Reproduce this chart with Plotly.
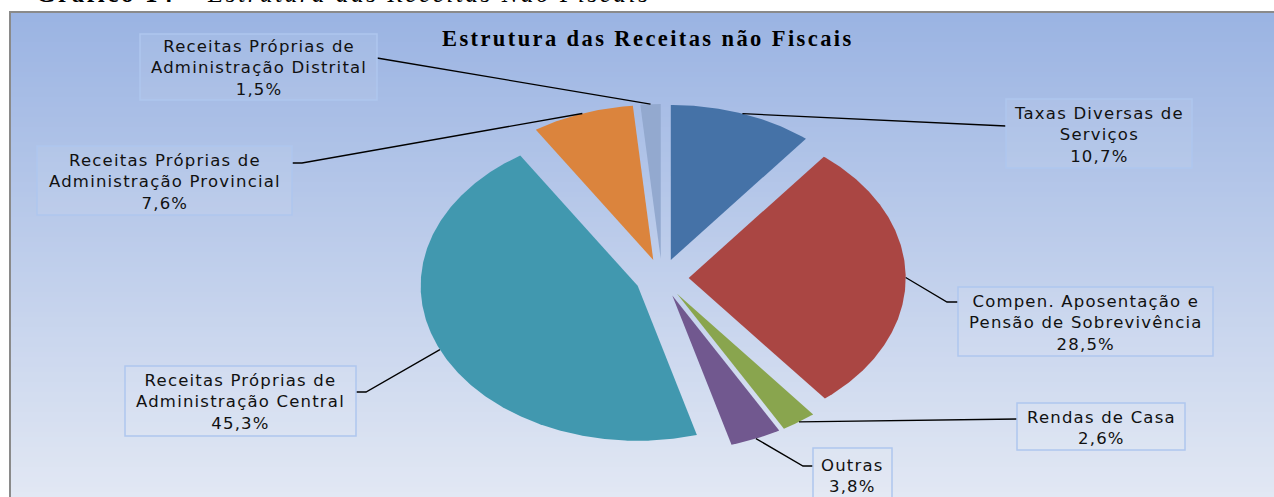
import numpy as np
import plotly.graph_objects as go

# ---------------- data ----------------
categories = [
    "Taxas Diversas de<br>Serviços",
    "Compen. Aposentação e<br>Pensão de Sobrevivência",
    "Rendas de Casa",
    "Outras",
    "Receitas Próprias de<br>Administração Central",
    "Receitas Próprias de<br>Administração Provincial",
    "Receitas Próprias de<br>Administração Distrital",
]
values = [10.7, 28.5, 2.6, 3.8, 45.3, 7.6, 1.5]
colors = ["#4572A7", "#AA4643", "#89A54E", "#71588F", "#4198AF", "#DB843D", "#93A9CF"]

chart_title = "Estrutura das Receitas não Fiscais"
header_bold = "Gráfico 14 – "
header_italic = "Estrutura das Receitas Não Fiscais"

# ---------------- layout constants (pixels) ----------------
W, H = 1274, 497
CX, CY = 662, 278      # pie centre
RX, RY = 217, 155      # ellipse radii (stretched pie)
PULL = 0.123           # explosion, fraction of radius

def px2x(px):
    return (px - CX) / RX

def py2y(py):
    return (CY - py) / RY

def pxp(px):
    return px / W

def pyp(py):
    return 1 - py / H

# label boxes [x0, y0, x1, y1] and leader path points (elbow..., end) in pixels
boxes = [
    (1006, 99, 1192, 168),
    (958, 287, 1213, 356),
    (1017, 403, 1185, 450),
    (813, 448, 892, 510),
    (125, 366, 356, 436),
    (37, 146, 292, 215),
    (140, 34, 377, 100),
]
leader_pts = [
    [(1006, 126)],
    [(947, 302), (958, 302)],
    [(1017, 419)],
    [(803, 466), (813, 466)],
    [(366, 392), (356, 392)],
    [(302, 163), (292, 163)],
    [(381, 58), (377, 58)],
]

fig = go.Figure()

# ---------------- slices ----------------
total = sum(values)
cum = 0.0
edge_pts = []
for val, col in zip(values, colors):
    a0 = cum / total * 360.0
    a1 = (cum + val) / total * 360.0
    cum += val
    mid = np.radians((a0 + a1) / 2)
    ax, ay = PULL * np.sin(mid), PULL * np.cos(mid)
    th = np.radians(np.linspace(a0, a1, max(12, int((a1 - a0) * 2))))
    xs = np.concatenate([[ax], ax + np.sin(th), [ax]])
    ys = np.concatenate([[ay], ay + np.cos(th), [ay]])
    fig.add_trace(go.Scatter(x=xs, y=ys, fill="toself", fillcolor=col,
                             mode="lines", line=dict(width=0, color=col),
                             hoverinfo="skip", showlegend=False))
    edge_pts.append((ax + np.sin(mid), ay + np.cos(mid)))

# ---------------- leader lines ----------------
for (sx, sy), pts in zip(edge_pts, leader_pts):
    xs = [sx] + [px2x(p[0]) for p in pts]
    ys = [sy] + [py2y(p[1]) for p in pts]
    fig.add_trace(go.Scatter(x=xs, y=ys, mode="lines",
                             line=dict(color="#000000", width=1.3),
                             hoverinfo="skip", showlegend=False))

shapes = []
# gradient background inside frame
top_c = np.array([0x9B, 0xB4, 0xE3])
bot_c = np.array([0xE2, 0xE8, 0xF4])
y_start, y_end = 12, H
n_bands = 97
edges = np.linspace(y_start, y_end, n_bands + 1)
for i in range(n_bands):
    t = i / (n_bands - 1)
    c = top_c + (bot_c - top_c) * t
    shapes.append(dict(type="rect", xref="paper", yref="paper",
                       x0=pxp(10), x1=1.0, y0=pyp(edges[i + 1] + 0.6), y1=pyp(edges[i]),
                       fillcolor="rgb(%d,%d,%d)" % tuple(c.astype(int)),
                       line=dict(width=0), layer="below"))
# frame border
shapes.append(dict(type="line", xref="paper", yref="paper", x0=pxp(10), x1=pxp(10),
                   y0=0, y1=pyp(11), line=dict(color="#8A8A8A", width=2), layer="below"))
shapes.append(dict(type="line", xref="paper", yref="paper", x0=pxp(9), x1=1.0,
                   y0=pyp(12), y1=pyp(12), line=dict(color="#8A8A8A", width=2), layer="below"))

# label boxes
LS = "letter-spacing:1.2px"
annotations = []
for cat, val, b in zip(categories, values, boxes):
    x0, y0, x1, y1 = b
    shapes.append(dict(type="rect", xref="paper", yref="paper",
                       x0=pxp(x0), x1=pxp(x1), y0=pyp(y1), y1=pyp(y0),
                       fillcolor="rgba(255,255,255,0.07)",
                       line=dict(color="#AFC6EE", width=1.5)))
    lines = (cat + "<br>" + ("%.1f%%" % val).replace(".", ",")).split("<br>")
    txt = "<br>".join('<span style="%s">%s</span>' % (LS, ln) for ln in lines)
    cy_txt = (y0 + y1) / 2 if y1 <= H else y0 + 27
    annotations.append(dict(xref="paper", yref="paper", x=pxp((x0 + x1) / 2),
                            y=pyp(cy_txt + 1), text=txt, showarrow=False,
                            xanchor="center", yanchor="middle", align="center",
                            font=dict(family="DejaVu Sans", size=16.5, color="#111111")))

# title
annotations.append(dict(xref="paper", yref="paper", x=pxp(648), y=pyp(38),
                        text='<span style="letter-spacing:2.4px"><b>' + chart_title + "</b></span>",
                        showarrow=False, xanchor="center", yanchor="middle",
                        font=dict(family="Liberation Serif", size=22.5, color="#000000")))
# page header (cut off at the top)
annotations.append(dict(xref="paper", yref="paper", x=pxp(34), y=pyp(-7),
                        text='<span style="letter-spacing:2.6px"><b>' + header_bold + "</b><i>"
                             + header_italic + "</i></span>",
                        showarrow=False, xanchor="left", yanchor="middle",
                        font=dict(family="Liberation Serif", size=25, color="#000000")))

fig.update_layout(
    width=W, height=H,
    margin=dict(l=0, r=0, t=0, b=0),
    paper_bgcolor="#FFFFFF", plot_bgcolor="rgba(0,0,0,0)",
    showlegend=False,
    xaxis=dict(range=[px2x(0), px2x(W)], visible=False, fixedrange=True),
    yaxis=dict(range=[py2y(H), py2y(0)], visible=False, fixedrange=True),
    shapes=shapes, annotations=annotations,
)

fig.write_html("out.html", config={"displayModeBar": False},
               post_script="document.body.style.margin='0';document.body.style.overflow='hidden';")
